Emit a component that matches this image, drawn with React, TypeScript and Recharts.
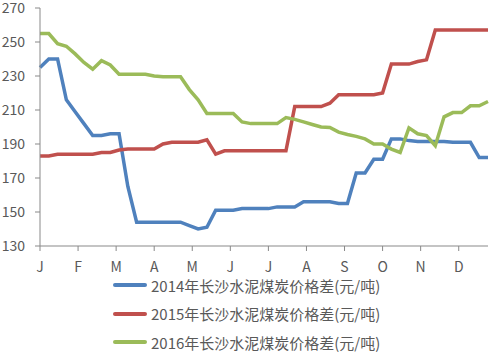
import { LineChart, Line, XAxis, YAxis, Legend } from 'recharts';

const months = ['J', 'F', 'M', 'A', 'M', 'J', 'J', 'A', 'S', 'O', 'N', 'D'];
const yTicks = [130, 150, 170, 190, 210, 230, 250, 270];
const seriesNames = [
  '2014年长沙水泥煤炭价格差(元/吨)',
  '2015年长沙水泥煤炭价格差(元/吨)',
  '2016年长沙水泥煤炭价格差(元/吨)',
];
const colors = ['#4F81BD', '#C0504D', '#9BBB59'];

// weekly values, 52 weeks
const price2014 = [
  235, 240, 240, 216, 209, 202, 195, 195, 196, 196, 165, 144, 144, 144, 144, 144, 144, 142,
  140, 141, 151, 151, 151, 152, 152, 152, 152, 153, 153, 153, 156, 156, 156, 156, 155, 155,
  173, 173, 181, 181, 193, 193, 192, 191.5, 191.5, 191.5, 191.5, 191, 191, 191, 182, 182,
];
const price2015 = [
  183, 183, 184, 184, 184, 184, 184, 185, 185, 186.5, 187, 187, 187, 187, 190, 191, 191, 191,
  191, 192.5, 184, 186, 186, 186, 186, 186, 186, 186, 186, 212, 212, 212, 212, 214, 219, 219,
  219, 219, 219, 220, 237, 237, 237, 238.5, 239.5, 257, 257, 257, 257, 257, 257, 257,
];
const price2016 = [
  255, 255, 249, 247.5, 243, 238, 234, 239, 236.5, 231, 231, 231, 231, 230, 229.5, 229.5, 229.5,
  222, 216, 208, 208, 208, 208, 203, 202, 202, 202, 202, 205.5, 204.5, 203, 201.5, 200, 199.7,
  197, 195.6, 194.5, 193, 190, 190, 187, 185, 199.5, 196, 195, 189, 206, 208.5, 208.5, 212.5,
  212.5, 215,
];

const data = price2014.map((v, i) => ({
  week: i,
  s2014: v,
  s2015: price2015[i],
  s2016: price2016[i],
}));

const monthTicks = months.map((_, i) => (i * 52) / 12);

const font = '"Noto Sans CJK SC", "Noto Sans", sans-serif';
const axisColor = '#898989';
const textColor = '#595959';

function LegendBox() {
  return (
    <div style={{ fontFamily: font, fontSize: 15, lineHeight: '15px', color: textColor }}>
      {seriesNames.map((name, i) => (
        <div key={name} style={{ display: 'flex', alignItems: 'center', height: 28.5, whiteSpace: 'nowrap' }}>
          <span style={{ display: 'inline-block', width: 34, height: 4, borderRadius: 2, background: colors[i], marginRight: 4 }} />
          <span>{name}</span>
        </div>
      ))}
    </div>
  );
}

export default function App() {
  return (
    <div style={{ position: 'absolute', left: 0, top: 0, width: 490, height: 352, overflow: 'hidden', background: '#fff' }}>
      <LineChart width={490} height={352} data={data} margin={{ top: 8, right: 2, left: 0, bottom: 76 }}>
        <XAxis
          dataKey="week"
          type="number"
          domain={[0, 51]}
          ticks={monthTicks}
          interval={0}
          tickFormatter={(_, i) => months[i]}
          height={30}
          tickSize={5}
          tickMargin={11}
          stroke={axisColor}
          tick={{ fill: textColor, fontSize: 14, fontFamily: font }}
        />
        <YAxis
          domain={[130, 270]}
          ticks={yTicks}
          interval={0}
          width={40}
          tickSize={5}
          tickMargin={10}
          stroke={axisColor}
          tick={{ fill: textColor, fontSize: 14, fontFamily: font }}
        />
        <Legend
          verticalAlign="middle"
          align="center"
          layout="horizontal"
          wrapperStyle={{ top: 271, left: 113, width: 'auto' }}
          content={() => <LegendBox />}
        />
        <Line dataKey="s2014" name={seriesNames[0]} stroke={colors[0]} strokeWidth={3.5} dot={false} isAnimationActive={false} />
        <Line dataKey="s2015" name={seriesNames[1]} stroke={colors[1]} strokeWidth={3.5} dot={false} isAnimationActive={false} />
        <Line dataKey="s2016" name={seriesNames[2]} stroke={colors[2]} strokeWidth={3.5} dot={false} isAnimationActive={false} />
      </LineChart>
    </div>
  );
}
